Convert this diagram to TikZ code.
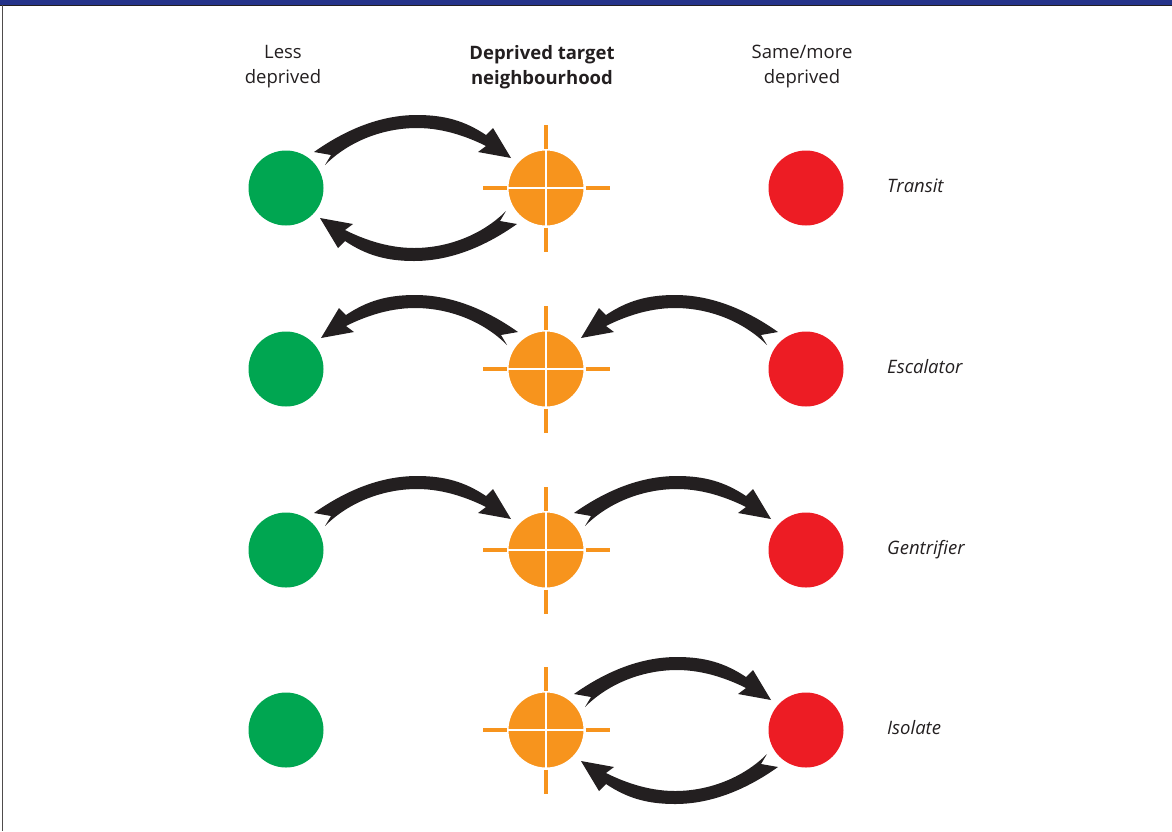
\documentclass[tikz,border=0pt]{standalone}
\usepackage{fontspec}
\setmainfont{Open Sans}
\usepackage{tikz}
\usetikzlibrary{calc}
\definecolor{barblue}{HTML}{25338A}
\definecolor{lessgreen}{HTML}{00A651}
\definecolor{targetorange}{HTML}{F7941D}
\definecolor{morered}{HTML}{ED1C24}
\definecolor{ink}{HTML}{231F20}
\tikzstyle{less} = [circle, fill=lessgreen, minimum size=75pt, inner sep=0pt]
\tikzstyle{more} = [circle, fill=morered, minimum size=75pt, inner sep=0pt]
\tikzstyle{target} = [circle, fill=targetorange, draw=white, line width=2pt, minimum size=77pt, inner sep=0pt]
\tikzstyle{hair} = [draw=targetorange, line width=3.5pt]
\tikzstyle{split} = [draw=white, line width=2.5pt]
\tikzstyle{head} = [font=\fontsize{18.5}{25}\selectfont, text=ink, align=center, inner sep=0pt, anchor=north]
\tikzstyle{headbold} = [head, font=\fontsize{18.5}{25}\selectfont\bfseries]
\tikzstyle{kind} = [font=\fontsize{18.5}{25}\selectfont\itshape, text=ink, inner sep=0pt, anchor=base west]
\tikzset{bend/.pic={
  \fill[ink] (-6,-6) -- (11,-3) -- (5,7)
    .. controls (30,-18) and (65,-30) .. (97,-30)
    .. controls (125,-30) and (150,-20) .. (166,-12)
    -- (158,-6) -- (191,0) -- (173,-30) -- (166,-23)
    .. controls (145,-37) and (125,-43) .. (97,-43)
    .. controls (60,-43) and (25,-28) .. (-6,-6) -- cycle;
}}

\begin{document}
\begin{tikzpicture}[x=1pt, y=-1pt, node distance=260pt]
   \useasboundingbox (0,0) rectangle (1172,831);
   \fill[barblue] (0,0) rectangle (1172,5);
   \draw[ink, line width=0.8pt] (0,5.4) -- (1172,5.4);
   \draw[ink!80, line width=0.8pt] (2,5) -- (2,831);

   \node (g1) [less] at (286,188) {};
   \node (o1) [target, right of=g1] {};
   \node (r1) [more, right of=o1] {};
   \node (g2) [less] at (286,369) {};
   \node (o2) [target, right of=g2] {};
   \node (r2) [more, right of=o2] {};
   \node (g3) [less] at (286,550) {};
   \node (o3) [target, right of=g3] {};
   \node (r3) [more, right of=o3] {};
   \node (g4) [less] at (286,730) {};
   \node (o4) [target, right of=g4] {};
   \node (r4) [more, right of=o4] {};

   \draw[hair] (o1.west) -- ++(-24,0) (o1.east) -- ++(24,0) (o1.north) -- ++(0,-24) (o1.south) -- ++(0,24);
   \draw[split] (o1.north) -- (o1.south) (o1.west) -- (o1.east);
   \draw[hair] (o2.west) -- ++(-24,0) (o2.east) -- ++(24,0) (o2.north) -- ++(0,-24) (o2.south) -- ++(0,24);
   \draw[split] (o2.north) -- (o2.south) (o2.west) -- (o2.east);
   \draw[hair] (o3.west) -- ++(-24,0) (o3.east) -- ++(24,0) (o3.north) -- ++(0,-24) (o3.south) -- ++(0,24);
   \draw[split] (o3.north) -- (o3.south) (o3.west) -- (o3.east);
   \draw[hair] (o4.west) -- ++(-24,0) (o4.east) -- ++(24,0) (o4.north) -- ++(0,-24) (o4.south) -- ++(0,24);
   \draw[split] (o4.north) -- (o4.south) (o4.west) -- (o4.east);

   \pic at ($(g1)+(34,-30)$) {bend};
   \pic[xscale=-1, yscale=-1] at ($(o1)+(-35,30)$) {bend};
   \pic[xscale=-1] at ($(o2)+(-34,-31)$) {bend};
   \pic[xscale=-1] at ($(r2)+(-34,-31)$) {bend};
   \pic at ($(g3)+(34,-31)$) {bend};
   \pic at ($(o3)+(34,-31)$) {bend};
   \pic at ($(o4)+(34,-30)$) {bend};
   \pic[xscale=-1, yscale=-1] at ($(r4)+(-34,31)$) {bend};

   \node (hl) [head] at ($(g1)+(-3,-143)$) {Less\\deprived};
   \node (ht) [headbold] at ($(o1)+(-4,-143)$) {Deprived target\\neighbourhood};
   \node (hm) [head] at ($(r1)+(-4,-143)$) {Same/more\\deprived};

   \node (k1) [kind] at ($(r1)+(81,4)$) {Transit};
   \node (k2) [kind] at ($(r2)+(81,4)$) {Escalator};
   \node (k3) [kind] at ($(r3)+(81,4)$) {Gentrifier};
   \node (k4) [kind] at ($(r4)+(81,4)$) {Isolate};
\end{tikzpicture}
\end{document}
